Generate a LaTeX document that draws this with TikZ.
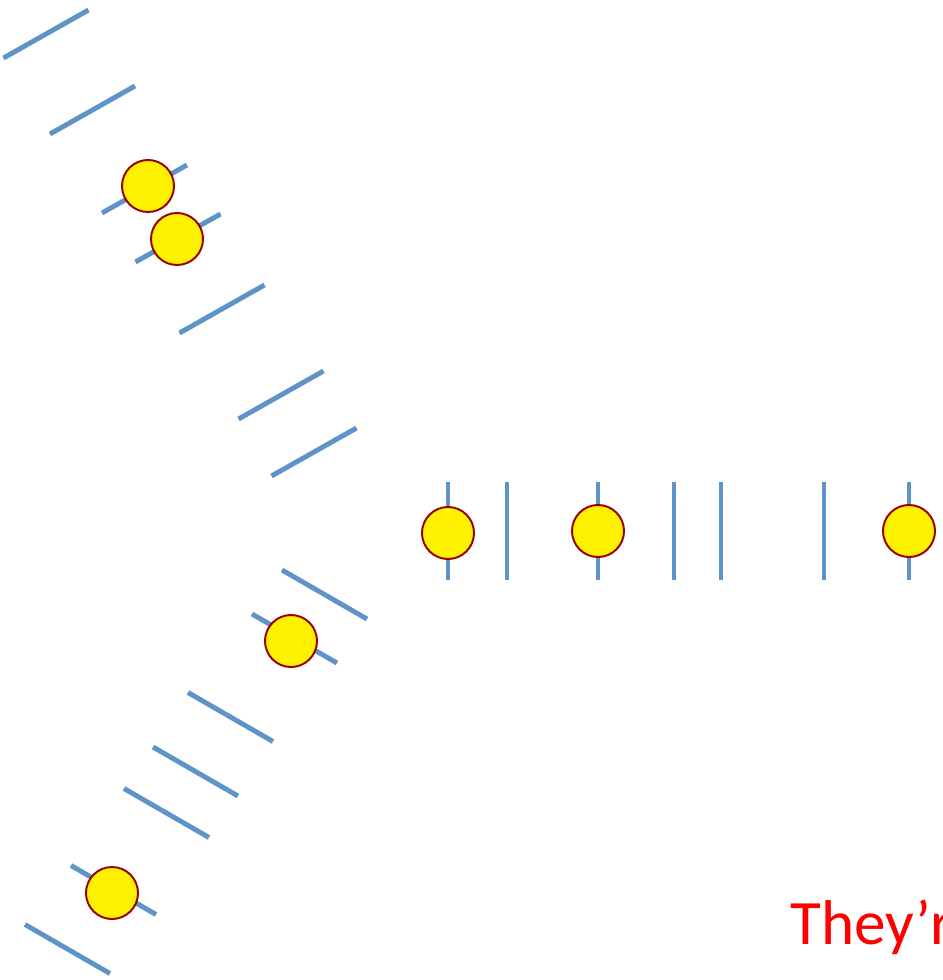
\documentclass[tikz,border=0pt]{standalone}
\usepackage{fontspec}
\newfontfamily\calibri{Carlito}
\usepackage{tikz}
\usetikzlibrary{calc}
\definecolor{strandblue}{RGB}{94,148,199}
\definecolor{beadred}{RGB}{153,0,0}

\begin{document}
\begin{tikzpicture}[
  x=0.025cm,y=-0.025cm,
  strand/.style={line width=3.5pt,strandblue},
  bead/.style={circle,draw=beadred,fill=yellow,line width=1.4pt,minimum size=1.3cm,inner sep=0pt},
  lbl/.style={font=\calibri\fontsize{45}{54}\selectfont,text=red,inner sep=0pt}
]
\useasboundingbox (0,0) rectangle (942,980);

% --- upper arm: strands tilted up ---
\foreach \x/\y in {46/34, 92.5/110, 144.5/189, 178/238, 222/309, 281/395, 314/452}
  \draw[strand] (\x,\y) +(-42.5,24) -- +(42.5,-24);

% --- middle arm: upright strands ---
\foreach \x in {448, 507, 598, 674, 721, 824, 909}
  \draw[strand] (\x,531) +(0,-49) -- +(0,49);

% --- lower arm: strands tilted down ---
\foreach \x/\y in {324.5/594.5, 294.5/638.5, 230.5/717, 195.5/771.5, 166.5/813, 113.5/890, 67.5/949}
  \draw[strand] (\x,\y) +(-42.5,-24.5) -- +(42.5,24.5);

% --- beads ---
\node[bead] (u1) at (148,186) {};
\node[bead] (u2) at (177,239) {};
\node[bead] (m1) at (448,533) {};
\node[bead] (m2) at (598,531) {};
\node[bead] (m3) at (909,531) {};
\node[bead] (d1) at (291,641) {};
\node[bead] (d2) at (112,893) {};

% --- caption, runs off the edge ---
\node[lbl,anchor=base west] (msg) at (790,944) {They’r};
\end{tikzpicture}
\end{document}
